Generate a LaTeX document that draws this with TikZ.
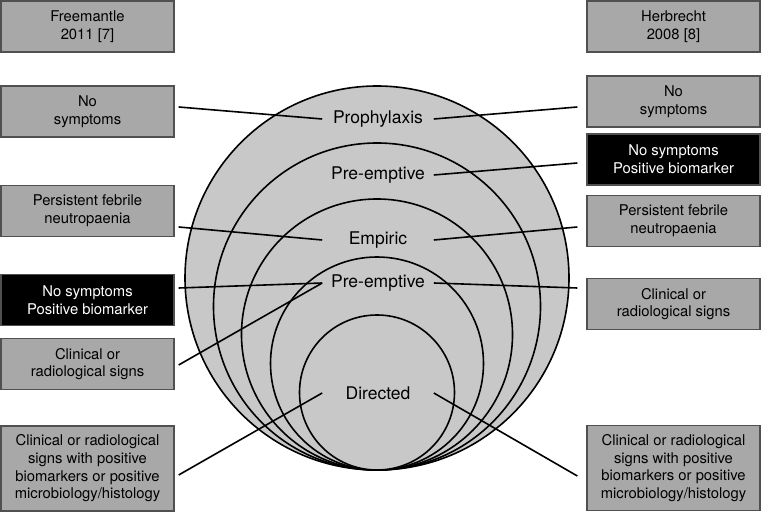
\documentclass[tikz,border=0pt]{standalone}
\usepackage{fontspec}
\setmainfont{TeX Gyre Heros}
\usetikzlibrary{calc}

\definecolor{boxgray}{RGB}{168,168,168}
\definecolor{ringgray}{RGB}{200,200,200}
\definecolor{edgegray}{RGB}{80,80,80}

\begin{document}
\begin{tikzpicture}[x=1pt, y=-1pt, line width=1.6pt,
    box/.style={draw=edgegray, line width=1.3pt, fill=boxgray,
      minimum width=173pt, minimum height=51pt, inner sep=0pt,
      align=center, font=\fontsize{14.8}{17.7}\selectfont},
    darkbox/.style={box, fill=black, text=white},
    ring/.style={draw=black, fill=ringgray},
    tag/.style={minimum width=110pt, inner sep=0pt,
      font=\fontsize{17.5}{20}\selectfont}]
    \useasboundingbox (0,0) rectangle (761,513);

    % nested circles, all touching at the bottom
    \draw[ring] (377,278)   circle[radius=192pt];
    \draw[ring] (377,306.5) circle[radius=163.5pt];
    \draw[ring] (377,334.5) circle[radius=135.5pt];
    \draw[ring] (377,363.5) circle[radius=106.5pt];
    \draw[ring] (377,392.5) circle[radius=77.5pt];

    % labels inside the circles
    \node[tag] (pro)  at (378,119) {Prophylaxis};
    \node[tag] (pre1) at (378,175) {Pre-emptive};
    \node[tag] (emp)  at (378,240) {Empiric};
    \node[tag] (pre2) at (378,283) {Pre-emptive};
    \node[tag] (dir)  at (378,393) {Directed};

    % left column
    \node[box]     (lhd) at (87.5,26.5)  {Freemantle\\2011 [7]};
    \node[box]     (lns) at (87.5,111.5) {No\\symptoms};
    \node[box]     (lpf) at (87.5,211)   {Persistent febrile\\neutropaenia};
    \node[darkbox] (lbk) at (87.5,300)   {No symptoms\\Positive biomarker};
    \node[box]     (lcl) at (87.5,364)   {Clinical or\\radiological signs};
    \node[box, minimum height=85pt] (lbt) at (87.5,468.5)
      {Clinical or radiological\\signs with positive\\biomarkers or positive\\microbiology/histology};

    % right column
    \node[box]     (rhd) at (673.5,26.5)  {Herbrecht\\2008 [8]};
    \node[box]     (rns) at (673.5,101.5) {No\\symptoms};
    \node[darkbox] (rbk) at (673.5,159.5) {No symptoms\\Positive biomarker};
    \node[box]     (rpf) at (673.5,221)   {Persistent febrile\\neutropaenia};
    \node[box]     (rcl) at (673.5,304)   {Clinical or\\radiological signs};
    \node[box, minimum height=85pt] (rbt) at (673.5,468)
      {Clinical or radiological\\signs with positive\\biomarkers or positive\\microbiology/histology};

    % connectors, left side
    \draw ($(lns.east)+(4,-4.5)$) -- (pro.west);
    \draw ($(lpf.east)+(4,16)$)   -- (emp.west);
    \draw ($(lbk.east)+(4,-12)$)  -- (pre2.west);
    \draw ($(lcl.east)+(4,1)$)    -- (pre2.west);
    \draw ($(lbt.east)+(4,6.5)$)  -- (dir.west);

    % connectors, right side
    \draw (pro.east)  -- ($(rns.west)+(-9,5.5)$);
    \draw (pre1.east) -- ($(rbk.west)+(-9,3.5)$);
    \draw (emp.east)  -- ($(rpf.west)+(-9,6)$);
    \draw (pre2.east) -- ($(rcl.west)+(-9,-16)$);
    \draw (dir.east)  -- ($(rbt.west)+(-9,8)$);
\end{tikzpicture}
\end{document}
